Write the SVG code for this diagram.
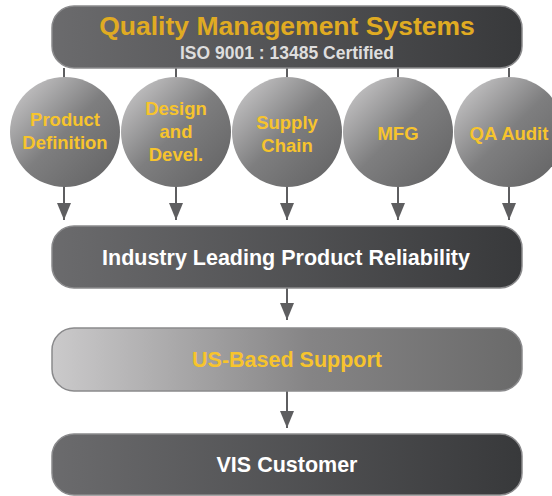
<svg xmlns="http://www.w3.org/2000/svg" width="552" height="496" viewBox="0 0 552 496">
<defs>
<linearGradient id="gDark" x1="0" y1="0" x2="1" y2="0">
<stop offset="0" stop-color="#6b6b6d"/>
<stop offset="1" stop-color="#38393b"/>
</linearGradient>
<linearGradient id="gLight" x1="0" y1="0" x2="1" y2="0">
<stop offset="0" stop-color="#cbcacb"/>
<stop offset="0.55" stop-color="#858485"/>
<stop offset="1" stop-color="#6a6a6a"/>
</linearGradient>
<linearGradient id="gBall" x1="0.1" y1="0.1" x2="0.9" y2="0.9">
<stop offset="0" stop-color="#c2c1c2"/>
<stop offset="0.5" stop-color="#7e7e7f"/>
<stop offset="1" stop-color="#666667"/>
</linearGradient>
<marker id="arr" markerWidth="17" markerHeight="14" refX="17" refY="7" orient="auto" markerUnits="userSpaceOnUse" viewBox="0 0 17 14">
<path d="M0,0 L17,7 L0,14 Z" fill="#5e5e60"/>
</marker>
<style>
.box{stroke:#8a8a8c;stroke-width:1.5}
.ball{fill:url(#gBall)}
.conn{stroke:#5e5e60;stroke-width:2;fill:none}
.t{font-family:"Liberation Sans",Arial,sans-serif;font-weight:bold;text-anchor:middle}
.y{fill:#f7c42d}
.w{fill:#ffffff}
.c{font-size:18.5px}
.b{font-size:21.5px}
</style>
</defs>
<g id="connectors">
<path class="conn" d="M64,68 V80 M176,68 V80 M287,68 V80 M398,68 V80 M509,68 V80"/>
<path class="conn" d="M64,185 V220" marker-end="url(#arr)"/>
<path class="conn" d="M176,185 V220" marker-end="url(#arr)"/>
<path class="conn" d="M287,185 V220" marker-end="url(#arr)"/>
<path class="conn" d="M398,185 V220" marker-end="url(#arr)"/>
<path class="conn" d="M509,185 V220" marker-end="url(#arr)"/>
<path class="conn" d="M287,288 V320" marker-end="url(#arr)"/>
<path class="conn" d="M287,391 V428" marker-end="url(#arr)"/>
</g>
<g id="qms">
<rect class="box" x="52" y="6" width="470" height="62" rx="22" fill="url(#gDark)"/>
<text class="t" x="287" y="35" font-size="26.5" fill="#e0ab22">Quality Management Systems</text>
<text class="t" x="287" y="59" font-size="17.5" fill="#dedede">ISO 9001 : 13485 Certified</text>
</g>
<g id="product-definition">
<circle class="ball" cx="65" cy="132" r="55"/>
<text class="t y c" x="65" y="126">Product</text>
<text class="t y c" x="65" y="149">Definition</text>
</g>
<g id="design">
<circle class="ball" cx="176" cy="132" r="55"/>
<text class="t y c" x="176" y="115">Design</text>
<text class="t y c" x="176" y="138">and</text>
<text class="t y c" x="176" y="161">Devel.</text>
</g>
<g id="supply-chain">
<circle class="ball" cx="287" cy="132" r="55"/>
<text class="t y c" x="287" y="129">Supply</text>
<text class="t y c" x="287" y="152">Chain</text>
</g>
<g id="mfg">
<circle class="ball" cx="398" cy="132" r="55"/>
<text class="t y c" x="398" y="140">MFG</text>
</g>
<g id="qa-audit">
<circle class="ball" cx="509" cy="132" r="55"/>
<text class="t y c" x="509" y="140">QA Audit</text>
</g>
<g id="reliability">
<rect class="box" x="52" y="226" width="470" height="62" rx="22" fill="url(#gDark)"/>
<text class="t w b" x="286" y="265">Industry Leading Product Reliability</text>
</g>
<g id="support">
<rect class="box" x="52" y="328" width="470" height="63" rx="22" fill="url(#gLight)"/>
<text class="t y b" x="287" y="367">US-Based Support</text>
</g>
<g id="customer">
<rect class="box" x="52" y="434" width="470" height="61" rx="22" fill="url(#gDark)"/>
<text class="t w b" x="287" y="472">VIS Customer</text>
</g>
</svg>
